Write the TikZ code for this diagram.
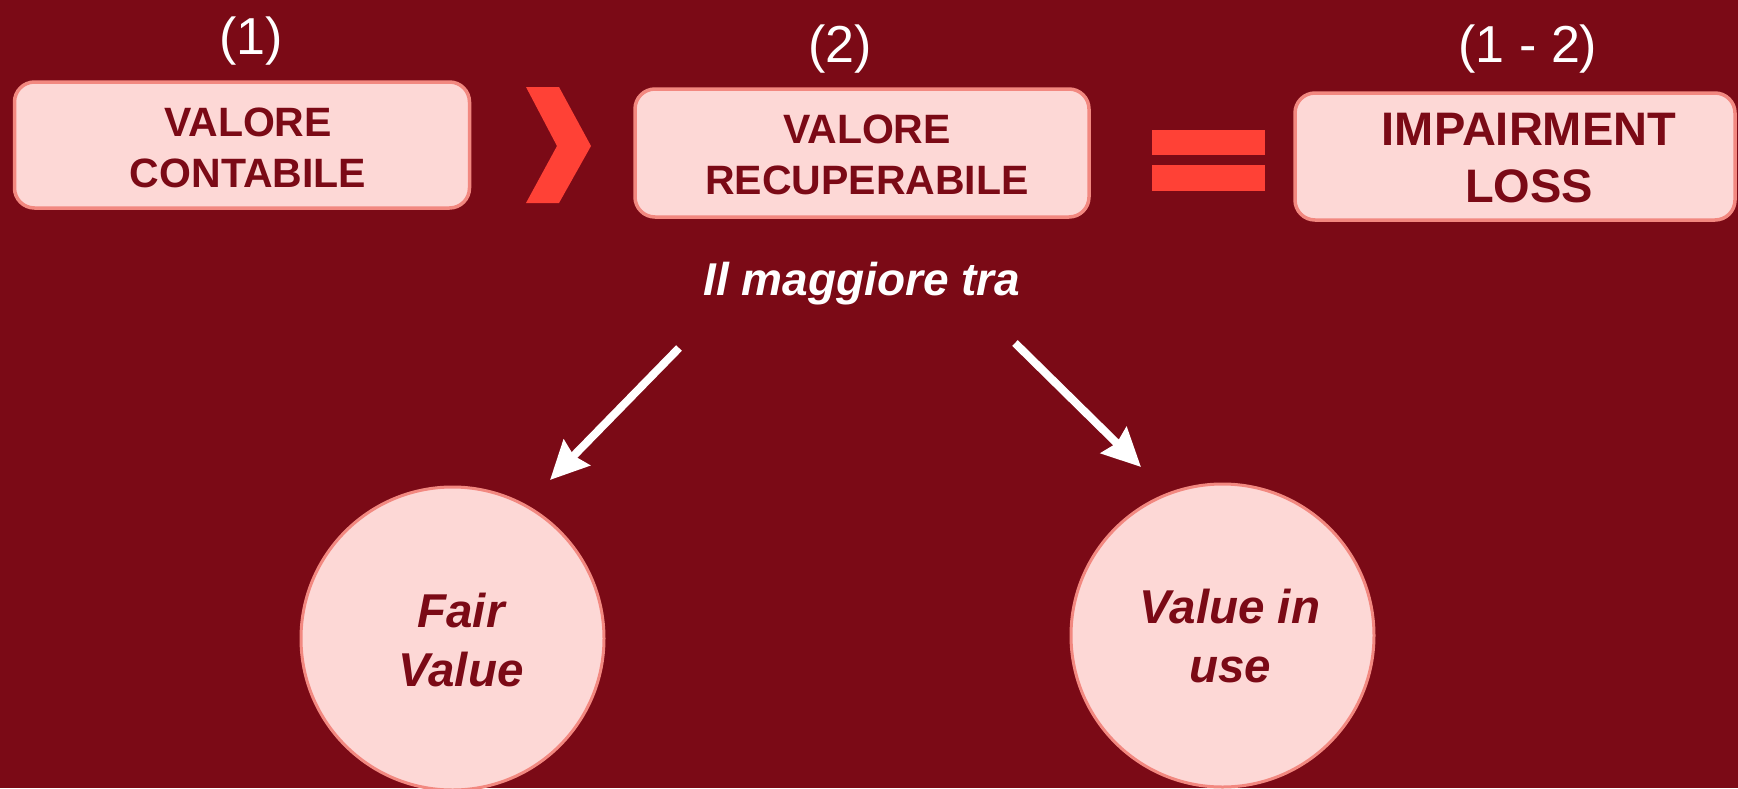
\documentclass[tikz,border=0pt]{standalone}
\usepackage{fontspec}
\setmainfont{Liberation Sans}
\usetikzlibrary{arrows.meta}
\definecolor{bgred}{RGB}{123,10,22}
\definecolor{boxfill}{RGB}{253,216,214}
\definecolor{boxline}{RGB}{242,136,128}
\definecolor{accent}{RGB}{255,65,54}
\tikzset{
  valbox/.style={draw=boxline, line width=3.5pt, fill=boxfill, rounded corners=20pt, inner sep=0pt},
  valcirc/.style={circle, draw=boxline, line width=3pt, fill=boxfill, minimum size=303pt, inner sep=0pt},
  boxtext/.style={text=bgred, align=center, font=\fontsize{41}{51}\selectfont\bfseries, inner sep=0pt},
  bigboxtext/.style={text=bgred, align=center, font=\fontsize{47}{56.5}\selectfont\bfseries, inner sep=0pt},
  circtext/.style={text=bgred, align=center, font=\fontsize{47.5}{59}\selectfont\bfseries\itshape, inner sep=0pt},
  numlabel/.style={text=white, font=\fontsize{52}{60}\selectfont, anchor=base, inner sep=0pt},
  midlabel/.style={text=white, font=\fontsize{46}{56}\selectfont\bfseries\itshape, anchor=base, inner sep=0pt},
  whitearrow/.style={draw=white, line width=8pt, -{Stealth[length=38pt,width=36pt,inset=4pt]}},
  accentshape/.style={fill=accent, draw=none}
}
\begin{document}
\begin{tikzpicture}[x=1pt, y=-1pt]
  \useasboundingbox (0,0) rectangle (1738,788);
  \fill[bgred] (0,0) rectangle (1738,788);

  % number labels
  \node[numlabel] (n1) at (251,54) {(1)};
  \node[numlabel] (n2) at (840,62) {(2)};
  \node[numlabel] (n3) at (1528,62) {(1 - 2)};

  % boxes
  \node[valbox, minimum width=455pt, minimum height=126pt] (b1) at (242,145) {};
  \node[boxtext] (t1) at (248,147.5) {VALORE\\CONTABILE};

  \node[valbox, minimum width=454pt, minimum height=128pt] (b2) at (862,153) {};
  \node[boxtext] (t2) at (867,154.5) {VALORE\\RECUPERABILE};

  \node[valbox, minimum width=440pt, minimum height=127pt] (b3) at (1515,156.5) {};
  \node[bigboxtext] (t3) at (1529,158) {IMPAIRMENT\\LOSS};

  % chevron ">"
  \fill[accentshape] (526,87) -- (559,87) -- (591,146) -- (559,203) -- (526,203) -- (557,146) -- cycle;

  % equals sign
  \fill[accentshape] (1152,130) rectangle (1265,155);
  \fill[accentshape] (1152,165) rectangle (1265,191);

  % middle label
  \node[midlabel] (mid) at (862,295) {Il maggiore tra};

  % circles
  \node[valcirc] (fv) at (452.5,638.5) {};
  \node[circtext] (fvt) at (461,640) {Fair\\Value};
  \node[valcirc] (viu) at (1222.5,635.5) {};
  \node[circtext] (viut) at (1230,636.5) {Value in\\use};

  % arrows
  \coordinate (a1s) at (679,348);
  \coordinate (a1e) at (550,480);
  \coordinate (a2s) at (1015,343);
  \coordinate (a2e) at (1141,467);
  \draw[whitearrow] (a1s) -- (a1e);
  \draw[whitearrow] (a2s) -- (a2e);
\end{tikzpicture}
\end{document}
